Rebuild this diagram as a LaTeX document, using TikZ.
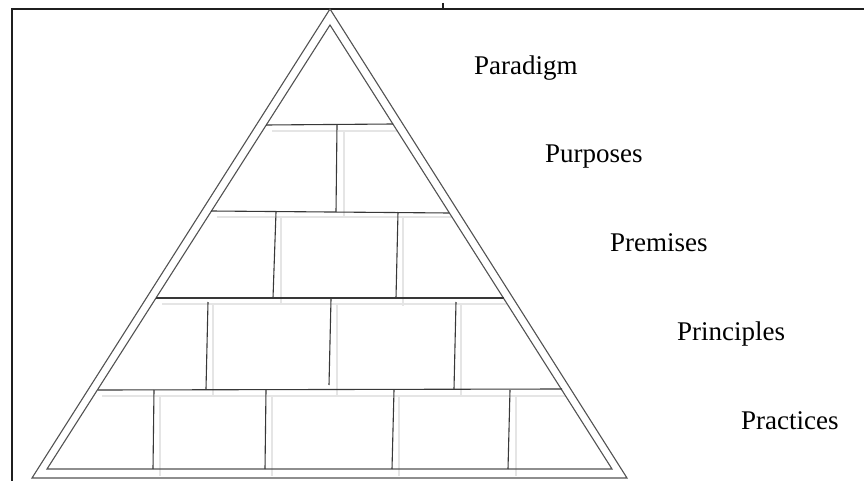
\documentclass[tikz,border=0pt]{standalone}
\usepackage{fontspec}
\setmainfont{Liberation Serif}
\begin{document}
\begin{tikzpicture}[x=1pt,y=-1pt,
  frameline/.style={draw=black!88,line width=1.3pt},
  triline/.style={draw=black!68,line width=1.1pt,line join=miter},
  brick/.style={draw=black!78,line width=1.1pt},
  ghost/.style={draw=black!10,line width=1.2pt},
  levellabel/.style={anchor=base west,inner sep=0pt,font=\fontsize{27}{32}\selectfont}]
\useasboundingbox (0,0) rectangle (864,481);

% frame
\draw[frameline] (12,481) -- (12,9) -- (864,9);
\draw[frameline,line width=1.1pt] (443,3) -- (443,9);

% pyramid outline: outer and inner triangle
\coordinate (oA) at (330,9);
\coordinate (oL) at (32,478);
\coordinate (oR) at (627,478);
\coordinate (iA) at (330,25);
\coordinate (iL) at (47,469);
\coordinate (iR) at (612,469);

% faint offset copy of the brick courses
\draw[ghost] (272,131) -- (397,131);
\draw[ghost] (217,217) -- (452,217);
\draw[ghost] (162,304) -- (507,304);
\draw[ghost] (102,396) -- (566,396);
\draw[ghost] (344,131) -- (344,217);
\draw[ghost] (281,217) -- (281,304);
\draw[ghost] (403,217) -- (403,306);
\draw[ghost] (213,304) -- (213,396);
\draw[ghost] (337,304) -- (337,396);
\draw[ghost] (461,304) -- (461,396);
\draw[ghost] (160,396) -- (160,476);
\draw[ghost] (272,396) -- (272,476);
\draw[ghost] (399,396) -- (399,476);
\draw[ghost] (516,396) -- (516,476);

\draw[triline] (oA) -- (oL) -- (oR) -- cycle;
\draw[triline] (iA) -- (iL) -- (iR) -- cycle;

% brick courses
\draw[brick] (266,125) -- (393,124);
\draw[brick] (211,211) -- (449,213);
\draw[brick] (156,298) -- (504,298);
\draw[brick] (98,390) -- (562,389);

% joints, row by row
\draw[brick] (337,125) -- (336,212);
\draw[brick] (276,212) -- (273,298);
\draw[brick] (398,212) -- (396,298);
\draw[brick] (208,302) -- (206,389);
\draw[brick] (331,299) -- (329,385);
\draw[brick] (456,302) -- (454,389);
\draw[brick] (154,390) -- (153,469);
\draw[brick] (266,390) -- (265,469);
\draw[brick] (394,390) -- (392,469);
\draw[brick] (510,390) -- (508,469);

% level labels
\node[levellabel] (paradigm)   at (474,75)  {Paradigm};
\node[levellabel] (purposes)   at (545,163) {Purposes};
\node[levellabel] (premises)   at (610,251) {Premises};
\node[levellabel] (principles) at (677,340) {Principles};
\node[levellabel] (practices)  at (741,429) {Practices};
\end{tikzpicture}
\end{document}
